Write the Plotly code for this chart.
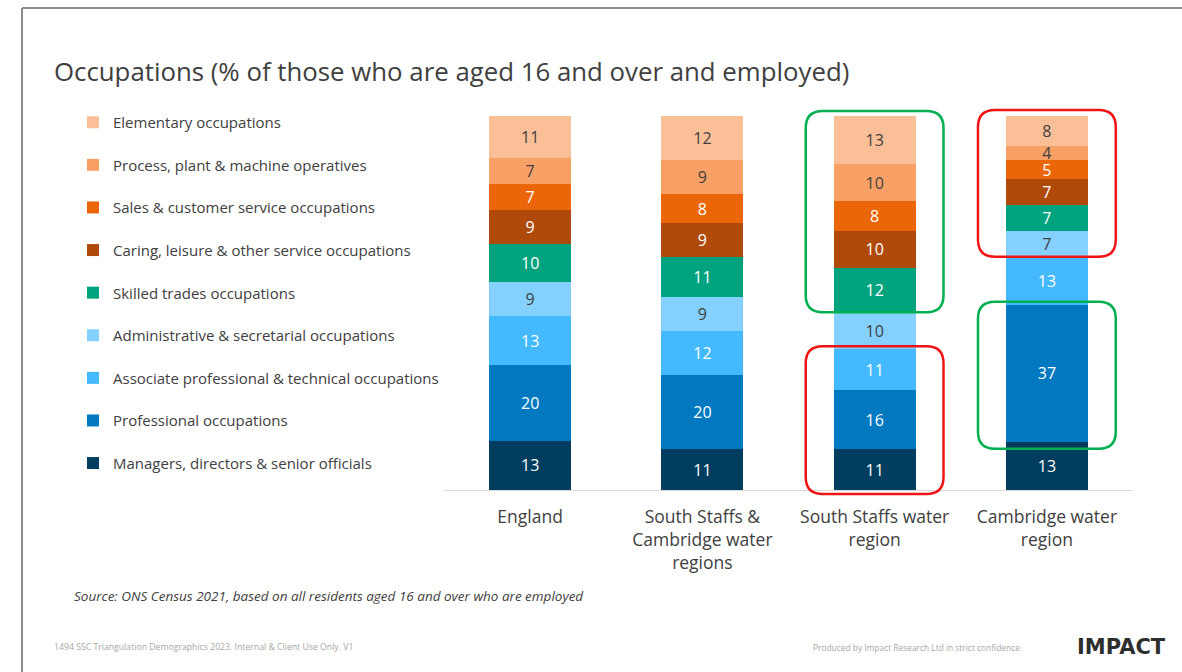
import plotly.graph_objects as go

# ---- data -------------------------------------------------------------
categories = [
    "England",
    "South Staffs &<br>Cambridge water<br>regions",
    "South Staffs water<br>region",
    "Cambridge water<br>region",
]

# stacked from the bottom up
occupations = [
    "Managers, directors & senior officials",
    "Professional occupations",
    "Associate professional & technical occupations",
    "Administrative & secretarial occupations",
    "Skilled trades occupations",
    "Caring, leisure & other service occupations",
    "Sales & customer service occupations",
    "Process, plant & machine operatives",
    "Elementary occupations",
]

managers = [13, 11, 11, 13]
professional = [20, 20, 16, 37]
associate = [13, 12, 11, 13]
administrative = [9, 9, 10, 7]
skilled = [10, 11, 12, 7]
caring = [9, 9, 10, 7]
sales = [7, 8, 8, 5]
process = [7, 9, 10, 4]
elementary = [11, 12, 13, 8]

series = [managers, professional, associate, administrative, skilled,
          caring, sales, process, elementary]

colors = ["#003D5E", "#0079C1", "#44B9FF", "#84D0FF", "#00A37D",
          "#AF4A0A", "#EB6608", "#F9A066", "#FBBF98"]
text_colors = ["#FFFFFF", "#FFFFFF", "#FFFFFF", "#404040", "#FFFFFF",
               "#FFFFFF", "#FFFFFF", "#404040", "#404040"]

# ---- geometry of the page ----------------------------------------------
FIG_W, FIG_H = 1182, 672
M_L, M_R, M_T, M_B = 444, 49, 116, 182
PLOT_W = FIG_W - M_L - M_R
PLOT_H = FIG_H - M_T - M_B
X_RANGE = [-0.5, 3.5]
Y_RANGE = [0, 100]
BAR_W = 0.477


def px_x(px):
    return (px - M_L) / PLOT_W


def px_y(py):
    return (FIG_H - M_B - py) / PLOT_H


def data_x(x):
    return (x - X_RANGE[0]) / (X_RANGE[1] - X_RANGE[0])


def data_y(y):
    return (y - Y_RANGE[0]) / (Y_RANGE[1] - Y_RANGE[0])


FONT = "Open Sans"

fig = go.Figure()
xs = list(range(len(categories)))
n = len(series)
for i, (name, vals) in enumerate(zip(occupations, series)):
    fig.add_trace(go.Bar(
        x=xs, y=vals, name=name, legendgroup=name,
        legendrank=n - i,  # top segment listed first
        width=BAR_W,
        marker=dict(color=colors[i], line=dict(width=0)),
        text=vals, texttemplate="%{text}",
        textposition="inside", insidetextanchor="middle", textangle=0,
        textfont=dict(family=FONT, size=16, color=text_colors[i]),
        hoverinfo="skip",
    ))

# ---- highlight boxes (rounded rectangles around segment groups) --------
totals = [sum(s[c] for s in series) for c in range(len(categories))]


def seg_bounds(cat, first, last):
    """percentage bounds from bottom of segment `first` to top of `last`"""
    below = sum(series[k][cat] for k in range(first))
    upto = sum(series[k][cat] for k in range(last + 1))
    return 100 * below / totals[cat], 100 * upto / totals[cat]


def rounded_box(cat, lo, hi, pad_lo_px, pad_hi_px, color):
    half = 0.40
    x0 = M_L + data_x(cat - half) * PLOT_W
    x1 = M_L + data_x(cat + half) * PLOT_W
    y0 = FIG_H - M_B - data_y(lo) * PLOT_H + pad_lo_px
    y1 = FIG_H - M_B - data_y(hi) * PLOT_H - pad_hi_px
    r = 17
    X = lambda p: px_x(p)
    Y = lambda p: px_y(p)
    path = (
        f"M {X(x0 + r)},{Y(y1)} L {X(x1 - r)},{Y(y1)} "
        f"Q {X(x1)},{Y(y1)} {X(x1)},{Y(y1 + r)} "
        f"L {X(x1)},{Y(y0 - r)} Q {X(x1)},{Y(y0)} {X(x1 - r)},{Y(y0)} "
        f"L {X(x0 + r)},{Y(y0)} Q {X(x0)},{Y(y0)} {X(x0)},{Y(y0 - r)} "
        f"L {X(x0)},{Y(y1 + r)} Q {X(x0)},{Y(y1)} {X(x0 + r)},{Y(y1)} Z"
    )
    fig.add_shape(type="path", path=path, xref="paper", yref="paper",
                  line=dict(color=color, width=2.5), layer="above")


GREEN, RED = "#00B050", "#F01414"
lo, hi = seg_bounds(2, 4, 8)
rounded_box(2, lo, hi, 0, 5, GREEN)
lo, hi = seg_bounds(2, 0, 2)
rounded_box(2, lo, hi, 4, 3, RED)
lo, hi = seg_bounds(3, 3, 8)
rounded_box(3, lo, hi, 0, 6, RED)
lo, hi = seg_bounds(3, 1, 1)
rounded_box(3, lo, hi, 7, 3, GREEN)

# ---- slide frame --------------------------------------------------------
frame_col = "#8C8C8C"
fig.add_shape(type="line", xref="paper", yref="paper",
              x0=px_x(22), x1=px_x(FIG_W + 5), y0=px_y(8), y1=px_y(8),
              line=dict(color=frame_col, width=2))
fig.add_shape(type="line", xref="paper", yref="paper",
              x0=px_x(22), x1=px_x(22), y0=px_y(8), y1=px_y(FIG_H + 5),
              line=dict(color=frame_col, width=2))

# ---- texts --------------------------------------------------------------
fig.add_annotation(
    text="Occupations (% of those who are aged 16 and over and employed)",
    xref="paper", yref="paper", x=px_x(52), y=px_y(71),
    xanchor="left", yanchor="middle", showarrow=False,
    font=dict(family=FONT, size=25.8, color="#404040"))
fig.add_annotation(
    text="<i>Source: ONS Census 2021, based on all residents aged 16 and over who are employed</i>",
    xref="paper", yref="paper", x=px_x(72), y=px_y(596),
    xanchor="left", yanchor="middle", showarrow=False,
    font=dict(family=FONT, size=13.5, color="#404040"))
fig.add_annotation(
    text="1494 SSC Triangulation Demographics 2023. Internal & Client Use Only. V1",
    xref="paper", yref="paper", x=px_x(52), y=px_y(647),
    xanchor="left", yanchor="middle", showarrow=False,
    font=dict(family=FONT, size=8.7, color="#A6A6A6"))
fig.add_annotation(
    text="Produced by Impact Research Ltd in strict confidence",
    xref="paper", yref="paper", x=px_x(811), y=px_y(647),
    xanchor="left", yanchor="middle", showarrow=False,
    font=dict(family=FONT, size=8.4, color="#A6A6A6"))
fig.add_annotation(
    text="<b>IMPACT</b>",
    xref="paper", yref="paper", x=px_x(1168), y=px_y(647),
    xanchor="right", yanchor="middle", showarrow=False,
    font=dict(family="DejaVu Sans", size=21, color="#2E2E2E"))

fig.update_layout(
    width=FIG_W, height=FIG_H,
    margin=dict(l=M_L, r=M_R, t=M_T, b=M_B, pad=0),
    barmode="stack", barnorm="percent",
    paper_bgcolor="white", plot_bgcolor="white",
    uniformtext=dict(minsize=16, mode="show"),
    showlegend=True,
    legend=dict(
        x=px_x(73), y=px_y(106), xanchor="left", yanchor="top",
        traceorder="grouped", tracegroupgap=20.1, maxheight=560,
        font=dict(family=FONT, size=15, color="#404040"),
        bgcolor="rgba(0,0,0,0)", itemclick=False, itemdoubleclick=False,
    ),
    xaxis=dict(
        range=X_RANGE, tickmode="array", tickvals=xs, ticktext=categories,
        showline=True, linecolor="#D9D9D9", linewidth=1,
        showgrid=False, zeroline=False, ticks="", ticklabelstandoff=11,
        tickfont=dict(family=FONT, size=17.5, color="#404040"),
        fixedrange=True,
    ),
    yaxis=dict(range=Y_RANGE, visible=False, fixedrange=True),
)

fig.write_html("out.html")
